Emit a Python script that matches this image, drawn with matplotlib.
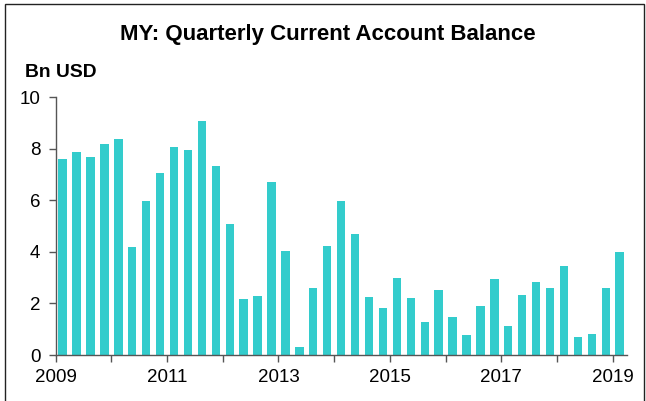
import matplotlib
matplotlib.use("Agg")
import matplotlib.pyplot as plt
import numpy as np

plt.rcParams['font.family'] = ['Liberation Sans', 'DejaVu Sans']

quarters = [f"{y}Q{q}" for y in range(2009, 2020) for q in range(1, 5)][:41]
values = [7.59, 7.89, 7.68, 8.20, 8.40, 4.18, 5.98, 7.05, 8.09, 7.94, 9.08, 7.34,
          5.07, 2.19, 2.29, 6.71, 4.02, 0.31, 2.61, 4.23, 5.99, 4.71, 2.25, 1.82,
          3.00, 2.23, 1.28, 2.51, 1.49, 0.76, 1.89, 2.95, 1.13, 2.34, 2.85, 2.60,
          3.45, 0.70, 0.80, 2.59, 4.00]
year_ticks = list(range(2009, 2020))
year_labels = [str(y) if (y - 2009) % 2 == 0 else "" for y in year_ticks]
title = "MY: Quarterly Current Account Balance"
unit = "Bn USD"

x = np.array([int(q[:4]) + (int(q[-1]) - 1) / 4 + 0.125 for q in quarters])

fig = plt.figure(figsize=(6.46, 4.01), dpi=100)
ax = fig.add_axes([0.0862, 0.1147, 0.8838, 0.6427])
ax.bar(x, values, width=0.15, color='#33CCCC', edgecolor='none')
ax.set_xlim(2009, 2019.25)
ax.set_ylim(0, 10)
ax.set_yticks(range(0, 11, 2))
ax.set_xticks(year_ticks)
ax.set_xticklabels(year_labels)
for s in ['top', 'right']:
    ax.spines[s].set_visible(False)
for s in ['left', 'bottom']:
    ax.spines[s].set_color('#555555')
    ax.spines[s].set_linewidth(1.0)
ax.tick_params(axis='both', direction='out', length=5, width=1, color='#555555',
               labelsize=13.5, labelcolor='black')
ax.tick_params(axis='y', pad=6)
ax.tick_params(axis='x', pad=5)

fig.text(0.508, 0.914, title, ha='center', va='center', fontsize=16, fontweight='bold')
fig.text(0.0387, 0.818, unit, ha='left', va='center', fontsize=13.9, fontweight='bold')

rect = plt.Rectangle((0.0077, -0.05), 0.9887, 1.04, transform=fig.transFigure,
                     fill=False, edgecolor='#222222', linewidth=1.0)
fig.add_artist(rect)

fig.savefig('out.png', dpi=100)
